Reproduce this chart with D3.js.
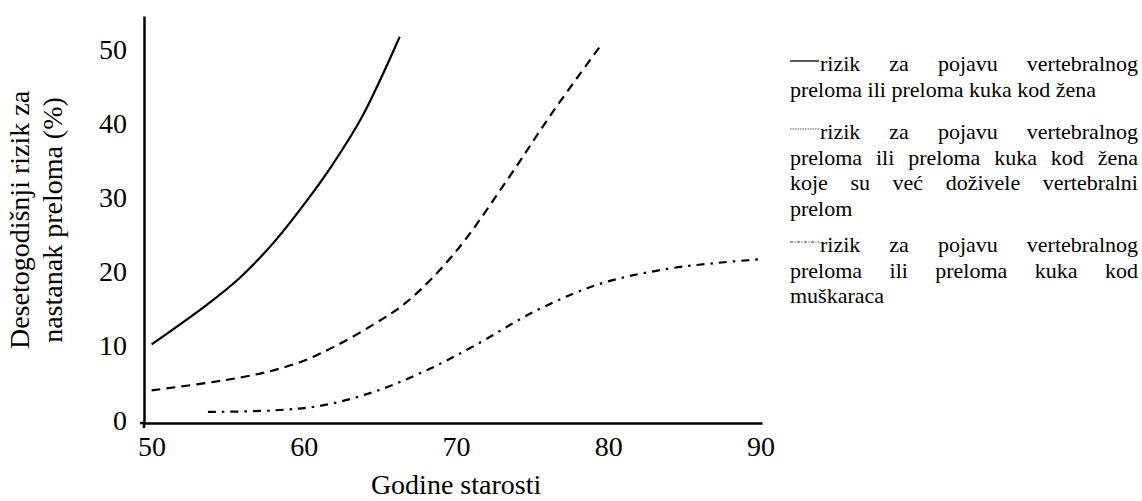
<!DOCTYPE html>
<html><head><meta charset="utf-8">
<script src="https://cdn.jsdelivr.net/npm/d3@7"></script>
<style>
body{margin:0;background:#fff;}
svg text, svg tspan{font-family:'Liberation Serif', serif !important;}
</style>
</head>
<body><svg id="c" width="1142" height="501" font-family="Liberation Serif"></svg>
<script>
// ---- data ----
const xTicks = [50, 60, 70, 80, 90];
const yTicks = [0, 10, 20, 30, 40, 50];
const womenAge = [50, 53.6, 55.8, 58.0, 60.2, 61.9, 63.8, 66.3];
const womenRisk = [10.2, 15.5, 19.2, 23.9, 29.6, 34.5, 40.8, 51.7];
const womenPrevAge = [50, 53.6, 56, 58, 60, 62, 64.5, 66.75, 69.9, 73.4, 76.4, 79.5];
const womenPrevRisk = [4.0, 5.0, 5.8, 6.7, 8.0, 9.9, 12.8, 15.9, 22.5, 32.5, 41.7, 50.5];
const menAge = [53.7, 58.0, 61.3, 64.6, 67.85, 71.1, 75.3, 79.5, 83.9, 87.2, 90];
const menRisk = [1.1, 1.3, 2.0, 3.8, 6.5, 9.9, 14.8, 18.4, 20.4, 21.2, 21.7];
const legendLines = [
  ["rizik za pojavu vertebralnog", "preloma ili preloma kuka kod žena"],
  ["rizik za pojavu vertebralnog", "preloma ili preloma kuka kod žena", "koje su već doživele vertebralni", "prelom"],
  ["rizik za pojavu vertebralnog", "preloma ili preloma kuka kod", "muškaraca"]
];
const xTitle = "Godine starosti";
const yTitle = ["Desetogodišnji rizik za", "nastanak preloma (%)"];

// ---- chart ----
const FONT = "'Liberation Serif', serif";
const svg = d3.select("#c");
const x = d3.scaleLinear().domain([49.5, 90.1]).range([144, 762]);
const y = d3.scaleLinear().domain([-0.4, 54.5]).range([423, 16]);

const yAxis = svg.append("g").attr("transform", "translate(144,0)")
  .call(d3.axisLeft(y).tickValues(yTicks).tickSize(0).tickPadding(17).tickFormat(d3.format("d")));
const xAxis = svg.append("g").attr("transform", "translate(0,423)")
  .call(d3.axisBottom(x).tickValues(xTicks).tickSize(0).tickPadding(13).tickFormat(d3.format("d")));
[yAxis, xAxis].forEach(a => {
  a.attr("font-family", null).attr("font-size", null);
  a.select(".domain").attr("stroke", "#000").attr("stroke-width", 2.5);
  a.selectAll("text").style("font-size", "28px").style("font-family", FONT).attr("fill", "#000");
});
// small corner tick
svg.append("line").attr("x1", 144).attr("x2", 144).attr("y1", 423).attr("y2", 428)
  .attr("stroke", "#000").attr("stroke-width", 2.5);
svg.append("line").attr("x1", 140).attr("x2", 144).attr("y1", 423).attr("y2", 423)
  .attr("stroke", "#000").attr("stroke-width", 2.5);

const line = d3.line().x(d => x(d[0])).y(d => y(d[1])).curve(d3.curveCatmullRom.alpha(0.5));
const series = [
  {a: womenAge, r: womenRisk, dash: null},
  {a: womenPrevAge, r: womenPrevRisk, dash: "9,6"},
  {a: menAge, r: menRisk, dash: "8,6,2.5,6"}
];
series.forEach(s => {
  svg.append("path").datum(s.a.map((v, i) => [v, s.r[i]]))
    .attr("d", line).attr("fill", "none").attr("stroke", "#000")
    .attr("stroke-width", 2.2).attr("stroke-dasharray", s.dash);
});

// titles
svg.append("text").attr("x", x(70)).attr("y", 494).attr("text-anchor", "middle")
  .style("font-family", FONT).style("font-size", "28px").text(xTitle);
const yt = svg.append("text").attr("transform", "translate(29,220) rotate(-90)")
  .attr("text-anchor", "middle").style("font-family", FONT).style("font-size", "28px");
yTitle.forEach((t, i) => yt.append("tspan").attr("x", 0).attr("y", i * 33).text(t));

// legend
const legFont = 22, lh = 25.7, L = 790, R = 1138, sampleW = 29;
const blockTop = [71, 139, 252];
const sampleDash = [null, "1.5,1", "3,1.5,1,1.5"];
const sampleColor = ["#000", "#555", "#333"];
const sampleW2 = [1.3, 1, 1];
legendLines.forEach((lines, b) => {
  svg.append("line").attr("x1", L).attr("x2", L + sampleW)
    .attr("y1", blockTop[b] - 10).attr("y2", blockTop[b] - 10)
    .attr("stroke", sampleColor[b]).attr("stroke-width", sampleW2[b])
    .attr("stroke-dasharray", sampleDash[b]);
  lines.forEach((ln, i) => {
    const by = blockTop[b] + i * lh;
    const x0 = i === 0 ? L + sampleW + 1 : L;
    const words = ln.split(" ");
    const t = svg.append("text").attr("y", by)
      .style("font-family", FONT).style("font-size", legFont + "px");
    const last = i === lines.length - 1;
    const spans = words.map(w => t.append("tspan").text(w));
    const widths = spans.map(s => s.node().getComputedTextLength());
    const spaceW = legFont * 0.25;
    const total = d3.sum(widths);
    const gap = (last || words.length < 2) ? spaceW : (R - x0 - total) / (words.length - 1);
    let cx = x0;
    spans.forEach((s, k) => { s.attr("x", cx); cx += widths[k] + gap; });
  });
});
</script></body></html>
